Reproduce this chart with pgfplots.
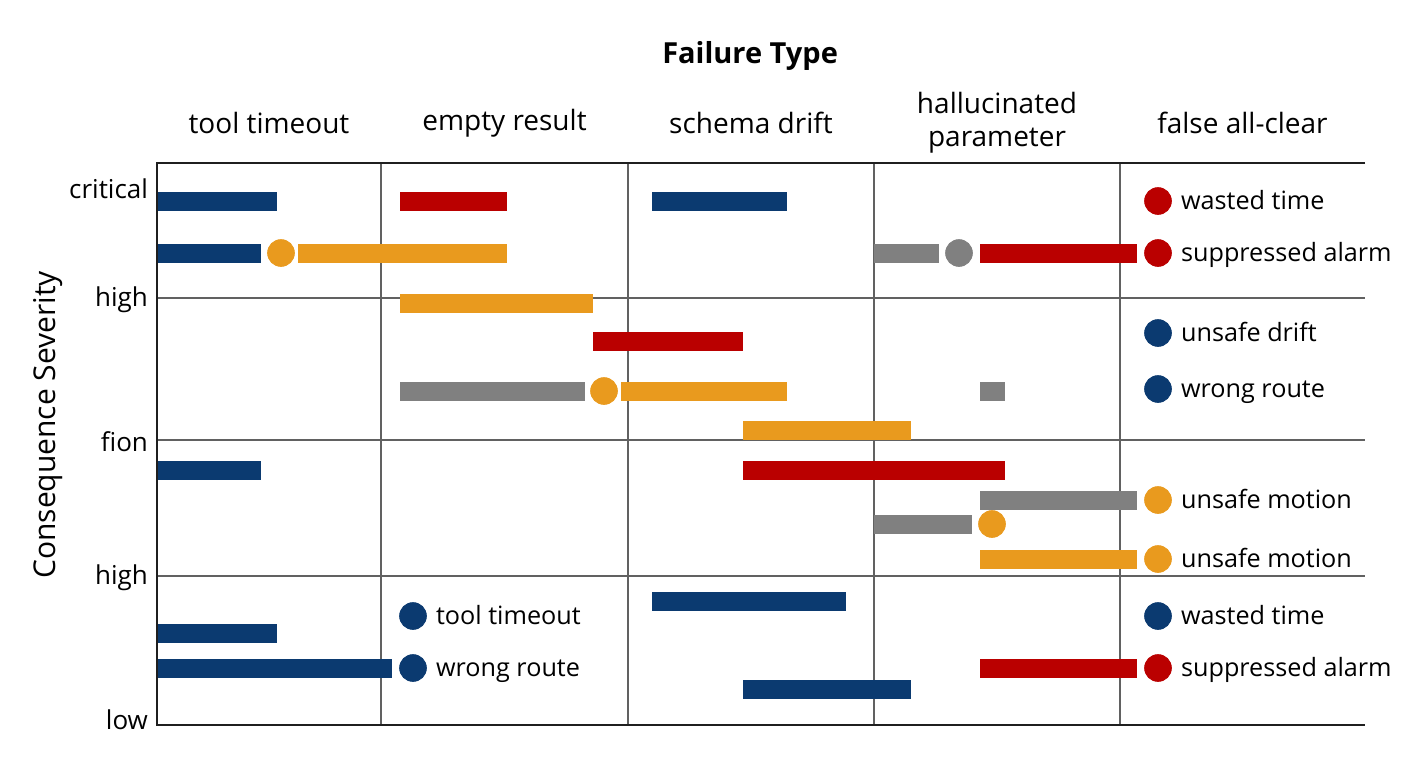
\documentclass[border=0pt]{standalone}
\usepackage{pgfplots}
\pgfplotsset{compat=1.18}
\usepackage{pgfplotstable}
\usepackage{fontspec}
\setmainfont{Open Sans}
\definecolor{cnavy}{HTML}{0B3A70}
\definecolor{cred}{HTML}{BA0000}
\definecolor{corange}{HTML}{E99A1E}
\definecolor{cgray}{HTML}{808080}

% bars: pairs of (start,end) points at the same severity, separated by nan
\pgfplotstableread{
x y
157 201
277 201
nan nan
652 201
787 201
nan nan
157 253
261 253
nan nan
157 470
261 470
nan nan
652 601
846 601
nan nan
157 633
277 633
nan nan
157 668
392 668
nan nan
743 689
911 689
}\navybars
\pgfplotstableread{
x y
400 201
507 201
nan nan
980 253
1137 253
nan nan
593 341
743 341
nan nan
743 470
1005 470
nan nan
980 668
1137 668
}\redbars
\pgfplotstableread{
x y
298 253
507 253
nan nan
400 303
593 303
nan nan
621 391
787 391
nan nan
743 430
911 430
nan nan
980 559
1137 559
}\orangebars
\pgfplotstableread{
x y
874 253
939 253
nan nan
400 391
585 391
nan nan
980 391
1005 391
nan nan
980 500
1137 500
nan nan
874 524
972 524
}\graybars
\pgfplotstableread[col sep=comma]{
x,y,label
1158,333,unsafe drift
1158,389,wrong route
1158,616,wasted time
413,616,tool timeout
413,668,wrong route
}\navydots
\pgfplotstableread[col sep=comma]{
x,y,label
1158,201,wasted time
1158,253,suppressed alarm
1158,668,suppressed alarm
}\reddots
\pgfplotstableread[col sep=comma]{
x,y,label
1158,500,unsafe motion
1158,559,unsafe motion
}\orangedots

\begin{document}
\begin{tikzpicture}
\useasboundingbox (-78.5pt,-21.5pt) rectangle (625.5pt,362.5pt);
\begin{axis}[
  at={(0,0)}, anchor=south west,
  scale only axis, width=604pt, height=281pt,
  xmin=157, xmax=1365, ymin=163, ymax=725, y dir=reverse,
  clip=false,
  axis line style={draw=none},
  major tick length=0pt,
  xtick={269,504.5,751,997,1242.5},
  xticklabels={tool timeout, {empty result}, schema drift, {hallucinated\\parameter}, false all-clear},
  xticklabel pos=upper,
  xticklabel style={font=\fontsize{14}{16.5}\selectfont, align=center, anchor=center, yshift=20pt},
  ytick={187,298,440,576,718},
  yticklabels={critical,high,fion,high,low},
  yticklabel style={font=\fontsize{13}{15}\selectfont, anchor=east, xshift=-1pt, yshift=-1pt},
  extra x ticks={381,628,874,1120}, extra x tick labels={},
  extra y ticks={298,440,576}, extra y tick labels={},
  extra tick style={grid=major, major grid style={line width=0.6pt, color=black!62}},
  ylabel={Consequence Severity},
  ylabel style={font=\fontsize{15}{18}\selectfont, at={(axis description cs:-0.0902,0.534)}, anchor=center},
  title={\bfseries Failure Type},
  title style={font=\fontsize{14.5}{17}\selectfont, at={(axis description cs:0.491,1.169)}, anchor=center, yshift=0pt},
  unbounded coords=jump,
  every axis plot/.append style={line cap=butt},
]
\addplot[no marks, line width=9.5pt, color=cnavy] table {\navybars};
\addplot[no marks, line width=9.5pt, color=cred] table {\redbars};
\addplot[no marks, line width=9.5pt, color=corange] table {\orangebars};
\addplot[no marks, line width=9.5pt, color=cgray] table {\graybars};

\addplot[only marks, mark=*, mark size=6.7pt, color=corange] coordinates {(281,253) (604,391) (992,524)};
\addplot[only marks, mark=*, mark size=6.7pt, color=cgray] coordinates {(959,253)};

\addplot[only marks, mark=*, mark size=6.7pt, color=cnavy,
  nodes near coords, point meta=explicit symbolic,
  nodes near coords style={anchor=west, xshift=8pt, yshift=-1pt, text=black, font=\fontsize{12.6}{15}\selectfont, text height=1.45ex, text depth=0.25ex}]
  table[x=x, y=y, meta=label] {\navydots};
\addplot[only marks, mark=*, mark size=6.7pt, color=cred,
  nodes near coords, point meta=explicit symbolic,
  nodes near coords style={anchor=west, xshift=8pt, yshift=-1pt, text=black, font=\fontsize{12.6}{15}\selectfont, text height=1.45ex, text depth=0.25ex}]
  table[x=x, y=y, meta=label] {\reddots};
\addplot[only marks, mark=*, mark size=6.7pt, color=corange,
  nodes near coords, point meta=explicit symbolic,
  nodes near coords style={anchor=west, xshift=8pt, yshift=-1pt, text=black, font=\fontsize{12.6}{15}\selectfont, text height=1.45ex, text depth=0.25ex}]
  table[x=x, y=y, meta=label] {\orangedots};

\draw[line width=0.8pt, color=black!88] (axis cs:1365,163) -- (axis cs:157,163) -- (axis cs:157,725) -- (axis cs:1365,725);
\end{axis}
\end{tikzpicture}
\end{document}
